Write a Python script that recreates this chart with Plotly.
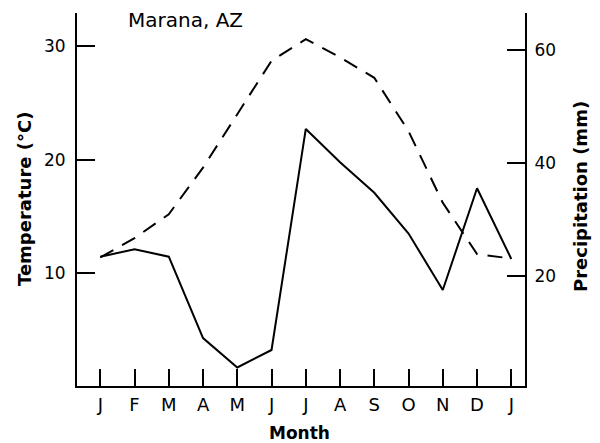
import plotly.graph_objects as go

months = ["J", "F", "M", "A", "M", "J", "J", "A", "S", "O", "N", "D", "J"]
month_idx = list(range(len(months)))
temperature_c = [11.4, 13.1, 15.2, 19.3, 24.0, 28.7, 30.6, 29.0, 27.2, 22.5, 16.2, 11.7, 11.3]
precip_mm = [23.4, 24.7, 23.4, 9.0, 3.8, 6.9, 46.0, 40.1, 34.7, 27.5, 17.5, 35.5, 23.0]
temp_ticks = [10, 20, 30]
precip_ticks = [20, 40, 60]

FONT = "DejaVu Sans"

fig = go.Figure()
fig.add_trace(go.Scatter(x=month_idx, y=temperature_c, mode="lines",
                         line=dict(color="black", width=2, dash="15px,10px"),
                         yaxis="y", showlegend=False))
fig.add_trace(go.Scatter(x=month_idx, y=precip_mm, mode="lines",
                         line=dict(color="black", width=2),
                         yaxis="y2", showlegend=False))

fig.update_layout(
    width=592, height=435,
    margin=dict(l=69, r=75, t=5, b=57),
    paper_bgcolor="white", plot_bgcolor="white",
    font=dict(family=FONT, color="black", size=16),
    xaxis=dict(range=[-0.68, 12.40], tickvals=month_idx, ticktext=months,
               ticks="inside", ticklen=17, tickwidth=1.5, tickcolor="black",
               showline=True, linecolor="black", linewidth=2,
               showgrid=False, zeroline=False, ticklabelstandoff=1,
               tickfont=dict(size=18)),
    yaxis=dict(range=[0.09, 32.9], tickvals=temp_ticks,
               ticks="inside", ticklen=18, tickwidth=1.5, tickcolor="black",
               showline=True, linecolor="black", linewidth=2,
               showgrid=False, zeroline=False, ticklabelstandoff=6,
               tickfont=dict(size=17)),
    yaxis2=dict(range=[0.53, 66.5], tickvals=precip_ticks, overlaying="y", side="right",
                ticks="inside", ticklen=18, tickwidth=1.5, tickcolor="black",
                showline=True, linecolor="black", linewidth=2,
                showgrid=False, zeroline=False, ticklabelstandoff=4,
                tickfont=dict(size=17)),
    annotations=[
        dict(text="Marana, AZ", xref="paper", yref="paper",
             x=(126 - 77) / 448, y=(386 - 20) / 373, xanchor="left", yanchor="middle",
             showarrow=False, font=dict(size=20)),
        dict(text="<b>Temperature (°C)</b>", xref="paper", yref="paper",
             x=(24 - 77) / 448, y=(386 - 199) / 373, textangle=-90, xanchor="center", yanchor="middle",
             showarrow=False, font=dict(size=18)),
        dict(text="<b>Precipitation (mm)</b>", xref="paper", yref="paper",
             x=(580 - 77) / 448, y=(386 - 197) / 373, textangle=-90, xanchor="center", yanchor="middle",
             showarrow=False, font=dict(size=18)),
        dict(text="<b>Month</b>", xref="paper", yref="paper",
             x=(299 - 77) / 448, y=(386 - 433) / 373, xanchor="center", yanchor="middle",
             showarrow=False, font=dict(size=17)),
    ],
)

fig.write_html("out.html")
